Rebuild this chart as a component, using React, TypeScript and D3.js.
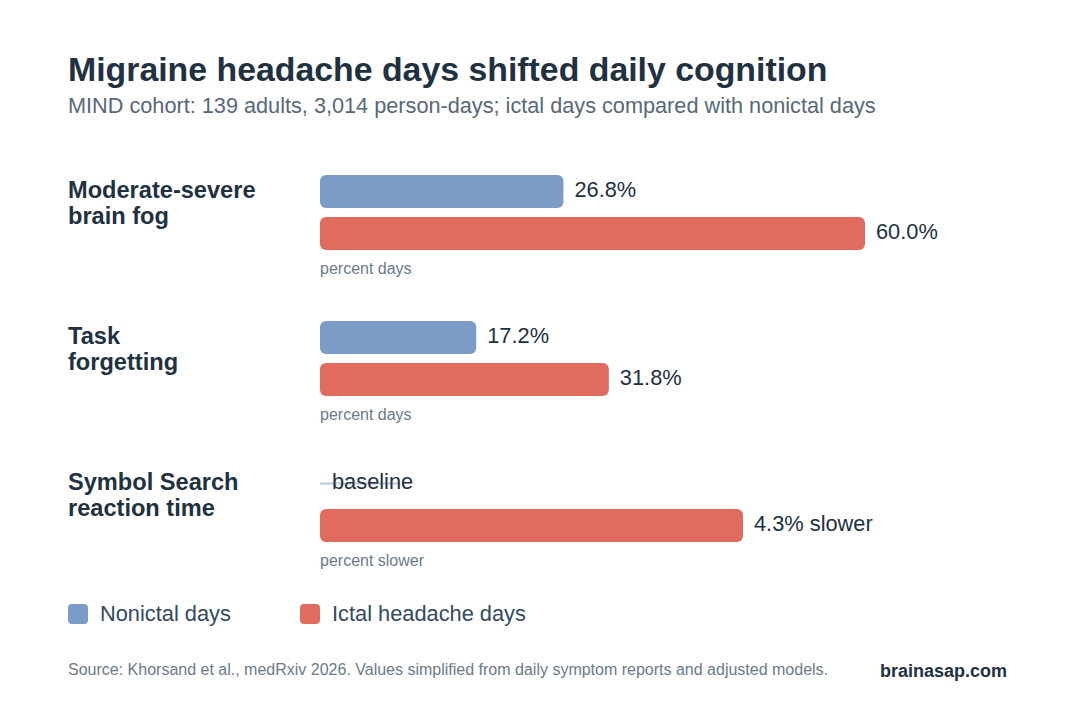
import React from 'react';
import * as d3 from 'd3';

// Metric rows, top to bottom
const metrics = ['Moderate-severe\nbrain fog', 'Task\nforgetting', 'Symbol Search\nreaction time'];
const units = ['percent days', 'percent days', 'percent slower'];
const nonictal: (number | null)[] = [26.8, 17.2, null];
const ictal = [60.0, 31.8, 4.3];
const valueLabels = [
  ['26.8%', '60.0%'],
  ['17.2%', '31.8%'],
  ['baseline', '4.3% slower'],
];
const seriesNames = ['Nonictal days', 'Ictal headache days'];

const COLORS = { nonictal: '#7b9cc6', ictal: '#e06b5e' };
const TEXT = '#22313f';
const MUTED = '#6b7a8a';
const FONT = '"Liberation Sans", Arial, sans-serif';

export default function App() {
  const width = 1080;
  const height = 720;
  const barX = 320;
  const barH = 33;
  const barGap = 9;

  // rows: top of first bar for each metric
  const rowY = d3.scalePoint<number>().domain([0, 1, 2]).range([175, 467]);
  const pctScale = d3.scaleLinear().domain([0, 60]).range([0, 545]);
  const slowScale = d3.scaleLinear().domain([0, 5.54]).range([0, 545]);

  return (
    <svg width={width} height={height} style={{ display: 'block', position: 'absolute', left: 0, top: 0 }} fontFamily={FONT}>
      <rect width={width} height={height} fill="#ffffff" />
      <text x={68} y={81} fontSize={33.85} fontWeight="bold" fill={TEXT}>
        Migraine headache days shifted daily cognition
      </text>
      <text x={68} y={113} fontSize={21.7} fill="#586878">
        MIND cohort: 139 adults, 3,014 person-days; ictal days compared with nonictal days
      </text>

      {metrics.map((m, i) => {
        const y0 = rowY(i) as number;
        const scale = i === 2 ? slowScale : pctScale;
        const nv = nonictal[i];
        const iw = scale(ictal[i]);
        const lines = m.split('\n');
        return (
          <g key={m}>
            {lines.map((l, j) => (
              <text key={l} x={68} y={y0 + 23 + j * 25.5} fontSize={23.6} fontWeight="bold" fill={TEXT}>
                {l}
              </text>
            ))}
            {nv !== null ? (
              <>
                <rect x={barX} y={y0} width={scale(nv)} height={barH} rx={6} fill={COLORS.nonictal} />
                <text x={barX + scale(nv) + 11} y={y0 + barH / 2} dy="0.24em" fontSize={21.8} fill={TEXT}>
                  {valueLabels[i][0]}
                </text>
              </>
            ) : (
              <>
                <line x1={barX} x2={barX + 80} y1={y0 + barH / 2} y2={y0 + barH / 2} stroke="#b9c9d9" strokeWidth={2} />
                <text x={barX + 12} y={y0 + barH / 2} dy="0.24em" fontSize={21.8} fill={TEXT}>
                  {valueLabels[i][0]}
                </text>
              </>
            )}
            <rect x={barX} y={y0 + barH + barGap} width={iw} height={barH} rx={6} fill={COLORS.ictal} />
            <text x={barX + iw + 11} y={y0 + barH + barGap + barH / 2} dy="0.24em" fontSize={21.8} fill={TEXT}>
              {valueLabels[i][1]}
            </text>
            <text x={barX} y={y0 + 99} fontSize={16} fill={MUTED}>
              {units[i]}
            </text>
          </g>
        );
      })}

      {seriesNames.map((s, i) => {
        const x = i === 0 ? 68 : 300;
        return (
          <g key={s}>
            <rect x={x} y={604} width={20} height={20} rx={4} fill={i === 0 ? COLORS.nonictal : COLORS.ictal} />
            <text x={x + 32} y={621} fontSize={21.8} fill="#34495e">
              {s}
            </text>
          </g>
        );
      })}

      <text x={68} y={675} fontSize={16} fill={MUTED}>
        Source: Khorsand et al., medRxiv 2026. Values simplified from daily symptom reports and adjusted models.
      </text>
      <text x={1007} y={677} fontSize={18} fontWeight="bold" fill={TEXT} textAnchor="end">
        brainasap.com
      </text>
    </svg>
  );
}
